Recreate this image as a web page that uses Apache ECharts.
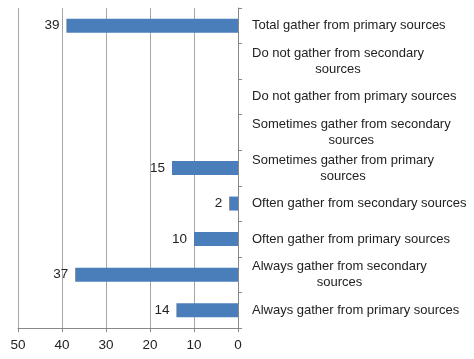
<!DOCTYPE html>
<html><head><meta charset="utf-8">
<script src="https://cdn.jsdelivr.net/npm/echarts@6/dist/echarts.min.js"></script>
<style>html,body{margin:0;padding:0;background:#fff}#c{width:474px;height:359px}</style>
</head><body><div id="c"></div>
<script>
var categories = [
  ['Always gather from primary sources'],
  ['Always gather from secondary', 'sources'],
  ['Often gather from primary sources'],
  ['Often gather from secondary sources'],
  ['Sometimes gather from primary', 'sources'],
  ['Sometimes gather from secondary', 'sources'],
  ['Do not gather from primary sources'],
  ['Do not gather from secondary', 'sources'],
  ['Total gather from primary sources']
];
var values = [14, 37, 10, 2, 15, null, null, null, 39];
var xTicks = [0, 10, 20, 30, 40, 50];

var chart = echarts.init(document.getElementById('c'));
var font = 'Liberation Sans';
chart.setOption({
  animation: false,
  grid: {left: 18, right: 236, top: 8, bottom: 31, containLabel: false},
  xAxis: {
    type: 'value', inverse: true, min: xTicks[0], max: xTicks[xTicks.length - 1], interval: 10,
    axisLine: {show: true, lineStyle: {color: '#888', width: 1}},
    axisTick: {show: true, length: 4, lineStyle: {color: '#888'}},
    splitLine: {show: true, lineStyle: {color: '#a6a6a6', width: 1}},
    axisLabel: {color: '#222', fontSize: 13.5, fontFamily: font, margin: 10}
  },
  yAxis: {
    type: 'category', position: 'right',
    data: categories.map(function (c) { return c.join('\n'); }),
    axisLine: {show: true, lineStyle: {color: '#888', width: 1}},
    axisTick: {show: true, length: 4, lineStyle: {color: '#888'}},
    splitLine: {show: false},
    axisLabel: {
      color: '#222', fontSize: 13, fontFamily: font, margin: 14, align: 'left', lineHeight: 16,
      formatter: function (v) {
        var parts = v.split('\n');
        if (parts.length === 1) return '{a|' + parts[0] + '}';
        return '{a|' + parts[0] + '}\n{c|' + parts[1] + '}';
      },
      rich: {
        a: {color: '#222', fontSize: 13, fontFamily: font, lineHeight: 16},
        c: {color: '#222', fontSize: 13, fontFamily: font, lineHeight: 16, align: 'center'}
      }
    }
  },
  series: [{
    type: 'bar', data: values, barWidth: 14,
    itemStyle: {color: '#4a7ebb'},
    label: {show: true, position: 'left', distance: 7, color: '#222', fontSize: 13.5, fontFamily: font}
  }]
});
</script></body></html>
